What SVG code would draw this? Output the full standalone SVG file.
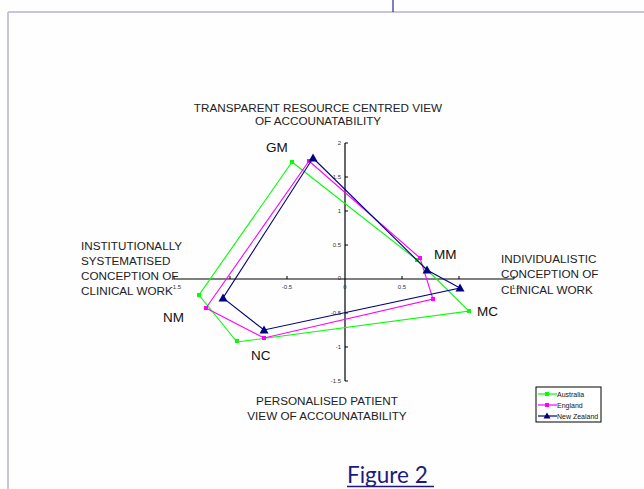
<svg xmlns="http://www.w3.org/2000/svg" width="644" height="489" viewBox="0 0 644 489">
<style>
.lbl{font-family:"Liberation Sans",Arial,sans-serif;font-size:11.7px;fill:#222}
.pt{font-family:"Liberation Sans",Arial,sans-serif;font-size:13.5px;fill:#111}
.tk{font-family:"Liberation Sans",Arial,sans-serif;font-size:6px;fill:#333}
.lg{font-family:"Liberation Sans",Arial,sans-serif;font-size:7px;fill:#111}
.au{fill:none;stroke:#00ff00;stroke-width:1.1}
.en{fill:none;stroke:#ff00ff;stroke-width:1.1}
.nz{fill:none;stroke:#000080;stroke-width:1.1}
</style>
<defs>
<rect id="mA" x="-2" y="-2" width="4" height="4" fill="#00ff00"/>
<rect id="mE" x="-2" y="-2" width="4" height="4" fill="#ff00ff"/>
<path id="mN" d="M0,-4.5 L4.5,3.5 L-4.5,3.5 Z" fill="#000080"/>
</defs>
<rect width="644" height="489" fill="#fefefe"/>
<g id="frame">
<line x1="8" y1="12" x2="644" y2="12" stroke="#c9c6db" stroke-width="2"/>
<line x1="8" y1="12" x2="8" y2="489" stroke="#c9c6db" stroke-width="2"/>
<line x1="393" y1="0" x2="393" y2="12" stroke="#000080" stroke-width="1"/>
</g>
<g id="axes" stroke="#000" stroke-width="1.2">
<line x1="174" y1="279" x2="514" y2="279"/>
<line x1="345" y1="143" x2="345" y2="381"/>
<path d="M345,143h3M345,177h3M345,211h3M345,245h3M345,313h3M345,347h3M345,381h3M287,279v-3M402,279v-3M459,279v-3M230,279v-3M174,279v-3M514,279v-3" stroke-width="1"/>
</g>
<g id="ticklabels" class="tk">
<text x="341" y="145" text-anchor="end">2</text>
<text x="341" y="179" text-anchor="end">1.5</text>
<text x="341" y="213" text-anchor="end">1</text>
<text x="341" y="247" text-anchor="end">0.5</text>
<text x="341" y="280" text-anchor="end">0</text>
<text x="341" y="315" text-anchor="end">-0.5</text>
<text x="341" y="349" text-anchor="end">-1</text>
<text x="341" y="383" text-anchor="end">-1.5</text>
<text x="176" y="289" text-anchor="middle">-1.5</text>
<text x="287" y="289" text-anchor="middle">-0.5</text>
<text x="345" y="289" text-anchor="middle">0</text>
<text x="402" y="289" text-anchor="middle">0.5</text>
<text x="516" y="289" text-anchor="middle">1.5</text>
</g>
<g id="series-australia">
<polygon class="au" points="292,162 417,260 469,311 237,342 199,295"/>
<use href="#mA" x="292" y="162"/><use href="#mA" x="417" y="260"/><use href="#mA" x="469" y="311"/><use href="#mA" x="237" y="341"/><use href="#mA" x="199" y="295"/>
</g>
<g id="series-england">
<polygon class="en" points="309,161 420,258 433,299 264,338 206,308"/>
<use href="#mE" x="309" y="161"/><use href="#mE" x="420" y="258"/><use href="#mE" x="433" y="299"/><use href="#mE" x="264" y="338"/><use href="#mE" x="206" y="308"/>
</g>
<g id="series-newzealand">
<polygon class="nz" points="313,158 427,270 460,288 264,330 223,298"/>
<use href="#mN" x="313" y="158"/><use href="#mN" x="427" y="270"/><use href="#mN" x="460" y="288"/><use href="#mN" x="264" y="330"/><use href="#mN" x="223" y="298"/>
</g>
<g id="pointlabels" class="pt">
<text x="266" y="152">GM</text>
<text x="434" y="259">MM</text>
<text x="477" y="316">MC</text>
<text x="251" y="360">NC</text>
<text x="163" y="322">NM</text>
</g>
<g id="axislabels" class="lbl">
<text x="318" y="112" text-anchor="middle">TRANSPARENT RESOURCE CENTRED VIEW</text>
<text x="318" y="125" text-anchor="middle">OF ACCOUNATABILITY</text>
<text x="81" y="250">INSTITUTIONALLY</text>
<text x="81" y="265">SYSTEMATISED</text>
<text x="81" y="280">CONCEPTION OF</text>
<text x="81" y="295">CLINICAL WORK</text>
<text x="501" y="263">INDIVIDUALISTIC</text>
<text x="501" y="278">CONCEPTION OF</text>
<text x="501" y="294">CLINICAL WORK</text>
<text x="327" y="405" text-anchor="middle">PERSONALISED PATIENT</text>
<text x="327" y="420" text-anchor="middle">VIEW OF ACCOUNATABILITY</text>
</g>
<g id="legend">
<rect x="536" y="387" width="65" height="35" fill="#fff" stroke="#000" stroke-width="1"/>
<line x1="538" y1="394" x2="557" y2="394" stroke="#00ff00" stroke-width="1.2"/><use href="#mA" x="547" y="394"/>
<line x1="538" y1="405" x2="557" y2="405" stroke="#ff00ff" stroke-width="1.2"/><use href="#mE" x="547" y="405"/>
<line x1="538" y1="416" x2="557" y2="416" stroke="#000080" stroke-width="1.2"/><path d="M547,412.5 L550.5,418.5 L543.5,418.5 Z" fill="#000080"/>
<text class="lg" x="557" y="396.5">Australia</text>
<text class="lg" x="557" y="407.5">England</text>
<text class="lg" x="557" y="418.5">New Zealand</text>
</g>
<g id="caption">
<text x="347" y="483" font-family="Lato,'Open Sans',sans-serif" font-size="22.5" fill="#1a1a80">Figure 2</text>
<line x1="347" y1="486.5" x2="434" y2="486.5" stroke="#1a1a80" stroke-width="1.5"/>
</g>
</svg>
